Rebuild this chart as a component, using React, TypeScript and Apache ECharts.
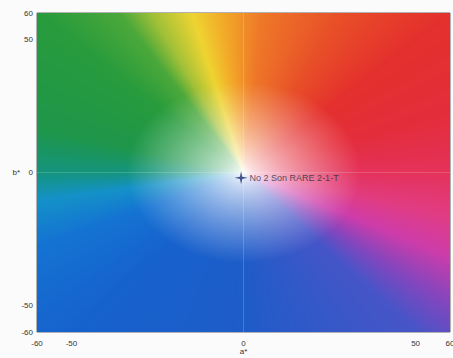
import React, { useEffect, useRef } from "react";
import * as echarts from "echarts";

// Axis ticks
const axisMin = -60;
const axisMax = 60;
const tickInterval = 10;
const shownTicks = [-60, -50, 0, 50, 60];

// Sample point (a*, b*)
const sampleNames = ["No 2 Son RARE 2-1-T"];
const sampleA = [-0.7];
const sampleB = [-2];

// Hue stops of the a*b* colour plane background: [angle deg, r, g, b]
const hueAngles = [0, 20, 45, 65, 85, 96, 104, 114, 121, 135, 165, 180, 190, 205, 230, 270, 310, 320, 332, 345, 360];
const hueColors: number[][] = [
  [228, 50, 90], [228, 45, 60], [228, 48, 45], [232, 80, 40], [238, 120, 40],
  [242, 170, 40], [238, 212, 50], [160, 192, 55], [75, 168, 58], [40, 155, 60],
  [30, 150, 75], [20, 148, 125], [20, 145, 200], [20, 115, 210], [22, 98, 205],
  [30, 92, 200], [70, 85, 200], [130, 70, 190], [205, 60, 170], [225, 60, 130],
  [228, 50, 90],
];

function hueAt(deg: number): number[] {
  for (let i = 0; i < hueAngles.length - 1; i++) {
    if (deg >= hueAngles[i] && deg <= hueAngles[i + 1]) {
      const t = (deg - hueAngles[i]) / (hueAngles[i + 1] - hueAngles[i]);
      const c0 = hueColors[i];
      const c1 = hueColors[i + 1];
      return [0, 1, 2].map((k) => c0[k] + (c1[k] - c0[k]) * t);
    }
  }
  return hueColors[0];
}

function makeBackground(w: number, h: number): string {
  const canvas = document.createElement("canvas");
  canvas.width = w;
  canvas.height = h;
  const ctx = canvas.getContext("2d")!;
  const img = ctx.createImageData(w, h);
  for (let j = 0; j < h; j++) {
    const b = axisMax - ((j + 0.5) / h) * (axisMax - axisMin);
    for (let i = 0; i < w; i++) {
      const a = axisMin + ((i + 0.5) / w) * (axisMax - axisMin);
      let deg = (Math.atan2(b, a) * 180) / Math.PI;
      if (deg < 0) deg += 360;
      const r = Math.sqrt(a * a + b * b);
      const f = r < 34 ? Math.pow(r / 34, 0.75) : 1;
      const c = hueAt(deg);
      const idx = (j * w + i) * 4;
      img.data[idx] = 255 + (c[0] - 255) * f;
      img.data[idx + 1] = 255 + (c[1] - 255) * f;
      img.data[idx + 2] = 255 + (c[2] - 255) * f;
      img.data[idx + 3] = 255;
    }
  }
  ctx.putImageData(img, 0, 0);
  return canvas.toDataURL("image/png");
}

const starPath = "path://M5,0 L5.9,4.1 L10,5 L5.9,5.9 L5,10 L4.1,5.9 L0,5 L4.1,4.1 Z";

export default function App() {
  const ref = useRef<HTMLDivElement>(null);
  useEffect(() => {
    if (!ref.current) return;
    const chart = echarts.init(ref.current, null, { renderer: "svg" });
    const gridLeft = 37, gridRight = 3, gridTop = 13, gridBottom = 26;
    const bg = makeBackground(453 - gridLeft - gridRight, 358 - gridTop - gridBottom);
    const labelStyle = { fontSize: 8, color: "#333", fontFamily: "Liberation Sans" };
    const axisCommon = {
      min: axisMin,
      max: axisMax,
      interval: tickInterval,
      nameLocation: "middle" as const,
      nameMoveOverlap: false,
      nameTextStyle: { fontSize: 8, color: "#333", fontFamily: "Liberation Sans" },
      axisLine: { show: false },
      axisTick: { show: false },
      splitLine: { show: false },
      axisLabel: {
        ...labelStyle,
        showMinLabel: true,
        showMaxLabel: true,
        formatter: (v: number) => (shownTicks.includes(v) ? String(v) : ""),
      },
    };
    chart.setOption({
      animation: false,
      backgroundColor: "#fbfbfb",
      grid: {
        left: gridLeft,
        right: gridRight,
        top: gridTop,
        bottom: gridBottom,
        show: true,
        borderColor: "#666",
        borderWidth: 1,
        outerBoundsMode: "none",
      },
      xAxis: {
        ...axisCommon,
        type: "value",
        name: "a*",
        nameGap: 19,
        nameTextStyle: { ...axisCommon.nameTextStyle, verticalAlign: "middle" },
        axisLabel: { ...axisCommon.axisLabel, margin: 7 },
      },
      yAxis: { ...axisCommon, type: "value", name: "b*", nameGap: 17, nameRotate: 0, axisLabel: { ...axisCommon.axisLabel, margin: 4 } },
      series: [
        {
          type: "custom",
          silent: true,
          z: 1,
          data: [[0, 0]],
          clip: true,
          renderItem: (_params: any, api: any) => {
            const p1 = api.coord([axisMin, axisMax]);
            const p2 = api.coord([axisMax, axisMin]);
            return {
              type: "image",
              style: { image: bg, x: p1[0], y: p1[1], width: p2[0] - p1[0], height: p2[1] - p1[1] },
            };
          },
        },
        {
          type: "scatter",
          z: 5,
          symbol: starPath,
          symbolSize: [13, 13],
          itemStyle: { color: "#1c2d6e" },
          data: sampleNames.map((nm, i) => ({ name: nm, value: [sampleA[i], sampleB[i]] })),
          label: {
            show: true,
            position: "right",
            distance: 2,
            formatter: "{b}",
            fontSize: 9,
            color: "#2a2a3a",
            fontFamily: "Liberation Sans",
          },
          markLine: {
            silent: true,
            symbol: "none",
            label: { show: false },
            lineStyle: { color: "rgba(255,255,255,0.18)", type: "solid", width: 1 },
            data: [{ xAxis: 0 }, { yAxis: 0 }],
          },
        },
      ],
    });
    return () => chart.dispose();
  }, []);
  return <div ref={ref} style={{ position: "fixed", left: 0, top: 0, width: 453, height: 358 }} />;
}
